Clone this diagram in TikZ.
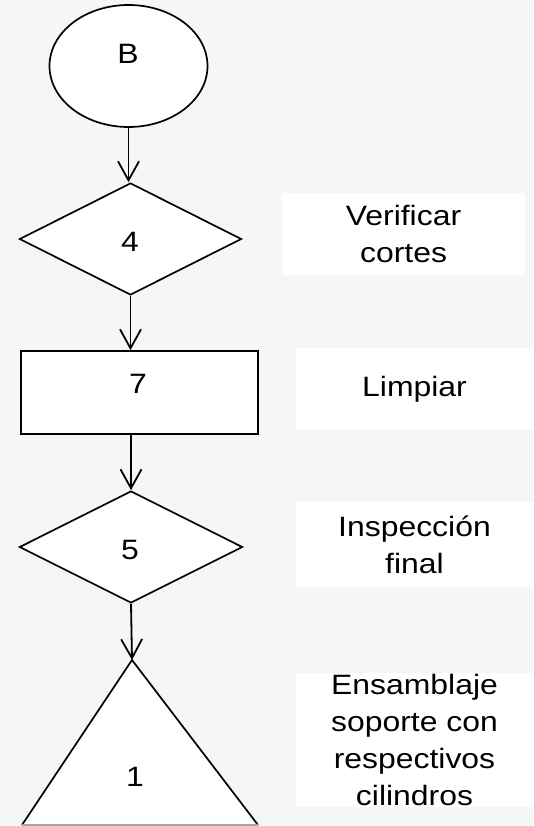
\documentclass[tikz,border=0pt]{standalone}
\usepackage{fontspec}
\setmainfont{Liberation Sans}[FakeStretch=1.14]
\usetikzlibrary{shapes.geometric,arrows.meta}
\definecolor{bgc}{RGB}{246,246,246}
\begin{document}
\begin{tikzpicture}[x=1pt,y=-1pt,
  shapeline/.style={draw=black,line width=1.7pt,fill=white,inner sep=0pt},
  flowarrow/.style={line width=1.8pt,-{Straight Barb[length=19pt,width=21pt,line width=1.8pt]}},
  lbl/.style={fill=white,inner sep=0pt,align=center,font=\fontsize{28}{37}\selectfont},
  num/.style={font=\fontsize{28}{34}\selectfont,inner sep=0pt}
]
\fill[bgc] (0,0) rectangle (533,826);
\useasboundingbox (0,0) rectangle (533,826);

% shapes
\node[shapeline,ellipse,minimum width=158pt,minimum height=122pt] (e) at (128.5,66) {};
\node[num] (eB) at (128,54) {B};

\node[shapeline,diamond,minimum width=222pt,minimum height=112pt] (d4) at (130.5,239) {};
\node[num] (n4) at (130,242) {4};

\node[shapeline,rectangle,minimum width=237pt,minimum height=83pt] (r7) at (139.5,392.5) {};
\node[num] (n7) at (138,384) {7};

\node[shapeline,diamond,minimum width=223pt,minimum height=112pt] (d5) at (131,547) {};
\node[num] (n5) at (130,550) {5};

\coordinate (tA) at (132,660);
\coordinate (tL) at (22,825);
\coordinate (tR) at (258,825);
\draw[line width=1.7pt,fill=white,line join=miter] (tL) -- (tA) -- (tR);
\draw[line width=1.5pt,gray!70] (tL) -- (tR);
\node[num] (n1) at (135,777) {1};

% arrows
\draw[flowarrow] (e.south) -- (e.south |- d4.north);
\draw[flowarrow] (d4.south) -- (d4.south |- r7.north);
\draw[flowarrow] (r7.south -| d5.north) -- (d5.north);
\draw[flowarrow] (d5.south) -- (tA);

% labels
\node[lbl,minimum width=243pt,minimum height=82pt] (l4) at (403.5,234) {Verificar\\cortes};
\node[lbl,minimum width=237pt,minimum height=82pt] (l7) at (414.5,389) {Limpiar};
\node[lbl,minimum width=237pt,minimum height=85pt] (l5) at (414.5,544.5) {Inspección\\final};
\node[lbl,minimum width=237pt,minimum height=134pt] (l1) at (414.5,740) {Ensamblaje\\soporte con\\respectivos\\cilindros};
\end{tikzpicture}
\end{document}
